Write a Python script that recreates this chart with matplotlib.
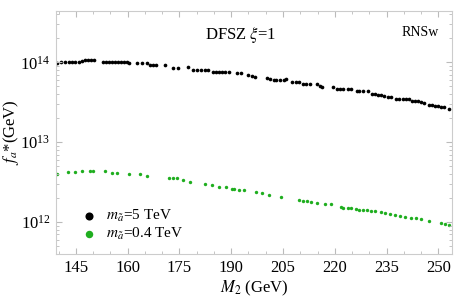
import numpy as np
import matplotlib.pyplot as plt
from matplotlib.ticker import LogLocator, MultipleLocator, NullFormatter

# M2 (GeV) and log10(f_a*/GeV)
m2_heavy = [139.5, 140.6, 141.8, 142.9, 143.8, 144.7, 145.9, 146.7, 147.6, 148.5, 149.4, 150.2,
            152.8, 153.7, 154.5, 155.4, 156.3, 157.2, 158.0, 158.9, 159.8, 160.4,
            162.7, 164.2, 165.6, 166.5, 167.4, 168.2, 170.8, 173.1, 174.5, 177.4,
            178.9, 180.0, 181.2, 182.4, 183.2, 184.7, 185.6, 186.4, 187.3, 188.2, 189.3,
            191.6, 192.8, 194.8, 195.9, 196.8, 200.3, 201.1, 202.3, 203.1, 204.0, 205.2, 206.0,
            207.5, 208.7, 209.6, 210.7, 211.6, 212.7, 214.7, 215.6, 216.2,
            219.6, 220.5, 221.4, 222.5, 223.7, 224.8, 226.3, 227.1, 228.3, 229.7,
            230.9, 231.7, 232.6, 233.5, 234.3, 235.5, 236.4,
            237.8, 238.6, 239.8, 240.6, 241.5, 242.4, 243.3, 244.1, 245.0, 245.9,
            247.3, 248.2, 249.0, 249.9, 250.8, 251.6, 253.1]
lf_heavy = [13.99, 14.00, 14.00, 14.00, 14.00, 14.00, 14.00, 14.01, 14.025, 14.025, 14.025, 14.025,
            14.00, 14.00, 14.00, 14.00, 14.00, 14.00, 14.00, 14.00, 14.00, 13.994,
            13.99, 13.99, 13.985, 13.96, 13.96, 13.96, 13.97, 13.925, 13.925, 13.94,
            13.90, 13.90, 13.90, 13.90, 13.90, 13.875, 13.875, 13.875, 13.875, 13.875, 13.875,
            13.86, 13.86, 13.84, 13.825, 13.81, 13.80, 13.79, 13.775, 13.775, 13.775, 13.775, 13.79,
            13.75, 13.75, 13.75, 13.725, 13.725, 13.725, 13.725, 13.70, 13.69,
            13.69, 13.66, 13.66, 13.66, 13.66, 13.66, 13.64, 13.64, 13.64, 13.64,
            13.60, 13.60, 13.59, 13.59, 13.575, 13.56, 13.56,
            13.54, 13.54, 13.54, 13.54, 13.54, 13.51, 13.51, 13.51, 13.50, 13.49,
            13.46, 13.46, 13.45, 13.45, 13.44, 13.44, 13.41]

m2_light = [139.5, 142.7, 144.7, 146.7, 149.0, 149.9, 153.4, 155.4, 156.8, 160.3, 163.7, 165.7,
            172.1, 173.2, 174.4, 176.1, 178.1, 182.5, 184.5, 186.5, 188.5,
            190.2, 190.8, 192.3, 193.7, 197.2, 198.9, 200.9, 204.4,
            209.6, 210.7, 211.9, 213.0, 214.7, 217.3, 218.8,
            221.7, 222.5, 223.7, 224.8, 226.0, 227.1, 228.3, 229.4, 230.6, 231.7, 233.5,
            234.6, 236.1, 237.5, 238.9, 240.4, 242.1, 243.6, 245.0, 247.3, 250.8, 251.9, 253.1]
lf_light = [12.60, 12.625, 12.625, 12.64, 12.64, 12.64, 12.64, 12.61, 12.61, 12.60, 12.60, 12.575,
            12.55, 12.55, 12.55, 12.525, 12.50, 12.475, 12.46, 12.44, 12.44,
            12.41, 12.41, 12.40, 12.40, 12.375, 12.36, 12.34, 12.31,
            12.275, 12.26, 12.26, 12.25, 12.24, 12.225, 12.225,
            12.19, 12.18, 12.175, 12.17, 12.16, 12.15, 12.15, 12.15, 12.14, 12.14, 12.125,
            12.11, 12.10, 12.09, 12.08, 12.06, 12.05, 12.05, 12.04, 12.01, 11.99, 11.975, 11.96]

plt.rcParams["font.family"] = ["Liberation Serif", "DejaVu Serif"]
plt.rcParams["mathtext.fontset"] = "stix"

fig = plt.figure(figsize=(4.54, 3.01), dpi=100)
ax = fig.add_axes([0.123, 0.156, 0.873, 0.807])

ax.scatter(m2_heavy, 10 ** np.array(lf_heavy), s=7, color="black", lw=0,
           label=r"$m_{\tilde{a}}$=5 TeV")
ax.scatter(m2_light, 10 ** np.array(lf_light), s=6, color="#1fae1f", lw=0,
           label=r"$m_{\tilde{a}}$=0.4 TeV")

ax.set_yscale("log")
ax.set_xlim(139.2, 254)
ax.set_ylim(10 ** 11.6, 10 ** 14.64)
ax.set_xticks([145, 160, 175, 190, 205, 220, 235, 250])
ax.xaxis.set_minor_locator(MultipleLocator(5))
ax.yaxis.set_major_locator(LogLocator(base=10, numticks=10))
ax.yaxis.set_minor_locator(LogLocator(base=10, subs=np.arange(2, 10), numticks=20))
ax.yaxis.set_minor_formatter(NullFormatter())

for s in ax.spines.values():
    s.set_color("#cccccc")
    s.set_linewidth(0.8)
ax.tick_params(which="both", direction="in", top=True, right=True, color="#bbbbbb",
               labelsize=12, pad=4)
ax.tick_params(which="major", length=4)
ax.tick_params(which="minor", length=2)

ax.set_xlabel(r"$M_2$ (GeV)", fontsize=12, labelpad=2)
ax.set_ylabel(r"$f_a$*(GeV)", fontsize=12)
ax.yaxis.set_label_coords(-0.087, 0.5)

ax.text(0.465, 0.9, r"DFSZ $\xi$=1", transform=ax.transAxes, ha="center", va="center", fontsize=12)
ax.text(0.92, 0.91, "RNSw", transform=ax.transAxes, ha="center", va="center", fontsize=10)

ax.legend(loc="lower left", bbox_to_anchor=(0.018, 0.005), frameon=False, fontsize=11,
          markerscale=2.2, handletextpad=0.1, borderpad=0.2, labelspacing=0.15)

fig.savefig("out.png", dpi=100)
